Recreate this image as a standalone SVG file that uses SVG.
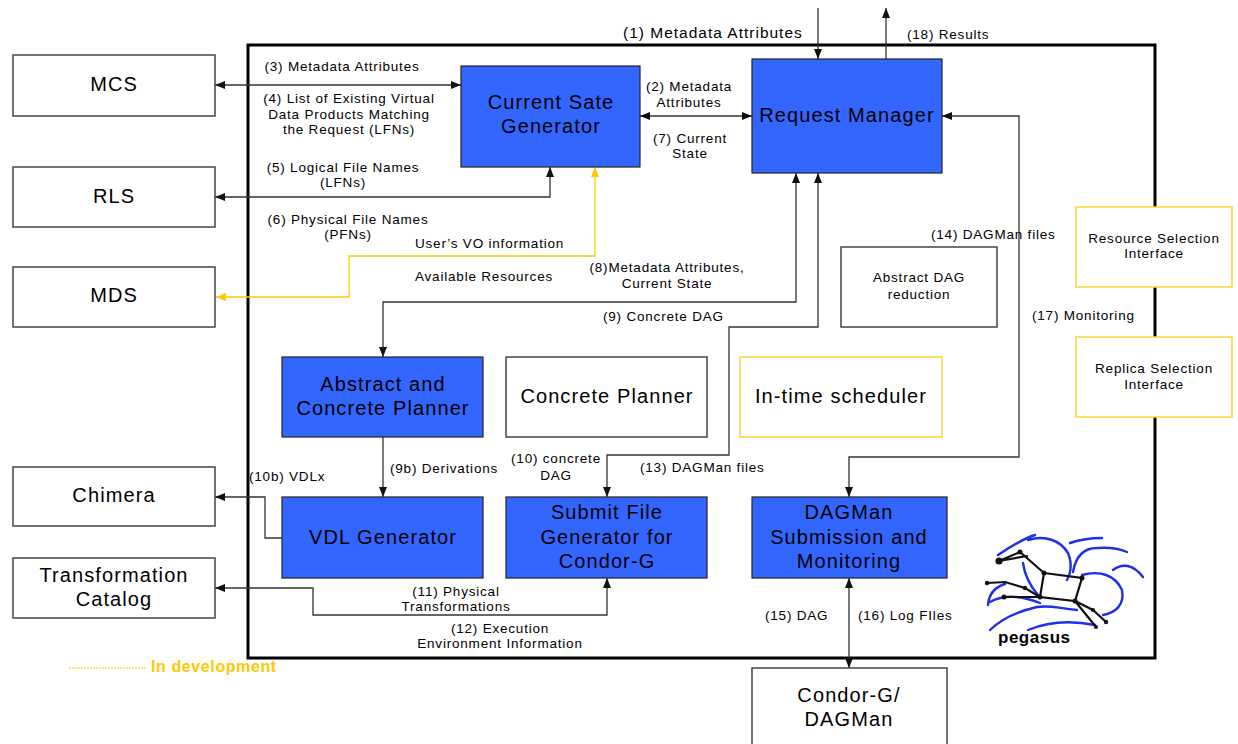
<svg xmlns="http://www.w3.org/2000/svg" width="1238" height="744" viewBox="0 0 1238 744">
<style>
text{font-family:"Liberation Sans",Arial,sans-serif;fill:#000}
.big{font-size:20px;letter-spacing:1.1px;text-anchor:middle}
.lbl{font-size:13.5px;letter-spacing:0.8px}
.mid{text-anchor:middle}
.sm{font-size:13.5px;letter-spacing:0.8px;text-anchor:middle}
.blue{fill:#3366FF;stroke:#222;stroke-width:1.2}
.white{fill:#fff;stroke:#444;stroke-width:1.5}
.yel{fill:#fff;stroke:#FFD43B;stroke-width:1.5}
.con{fill:none;stroke:#333;stroke-width:1.3}
.ycon{fill:none;stroke:#FFC800;stroke-width:1.3}
.logo{fill:none;stroke:#1F2EE8;stroke-width:2.4;stroke-linecap:round}
.star{fill:none;stroke:#111;stroke-width:2.2;stroke-linecap:round}
</style>
<defs>
<marker id="ah" markerUnits="userSpaceOnUse" markerWidth="10" markerHeight="8" refX="10" refY="4" orient="auto-start-reverse" viewBox="0 0 10 8"><path d="M0,0 L10,4 L0,8 z" fill="#111"/></marker>
<marker id="ay" markerUnits="userSpaceOnUse" markerWidth="10" markerHeight="8" refX="10" refY="4" orient="auto-start-reverse" viewBox="0 0 10 8"><path d="M0,0 L10,4 L0,8 z" fill="#FFC800"/></marker>
</defs>
<rect width="1238" height="744" fill="#fff"/>
<rect id="pegasus-frame" x="248" y="45" width="907" height="613" fill="none" stroke="#000" stroke-width="3"/>

<g id="connectors">
<path class="con" d="M818,8 V59" marker-end="url(#ah)"/>
<path class="con" d="M886,59 V8" marker-end="url(#ah)"/>
<path class="con" d="M215,85 H461" marker-start="url(#ah)" marker-end="url(#ah)"/>
<path class="con" d="M640,116 H752" marker-start="url(#ah)" marker-end="url(#ah)"/>
<path class="con" d="M550,167 V197 H215" marker-start="url(#ah)" marker-end="url(#ah)"/>
<path class="ycon" d="M595,167 V256 H349 V297 H216" marker-start="url(#ay)" marker-end="url(#ay)"/>
<path class="con" d="M383,357 V302 H796 V173" marker-start="url(#ah)" marker-end="url(#ah)"/>
<path class="con" d="M818,173 V327 H729 V455 H607 V497" marker-start="url(#ah)" marker-end="url(#ah)"/>
<path class="con" d="M383,437 V497" marker-end="url(#ah)"/>
<path class="con" d="M282,538 H265 V497 H215" marker-end="url(#ah)"/>
<path class="con" d="M607,578 V615 H313 V588 H215" marker-start="url(#ah)" marker-end="url(#ah)"/>
<path class="con" d="M942,116 H1019 V457 H849 V497" marker-start="url(#ah)" marker-end="url(#ah)"/>
<path class="con" d="M849,578 V668" marker-start="url(#ah)" marker-end="url(#ah)"/>
</g>

<g id="connector-labels">
<text class="lbl" x="623" y="38" style="font-size:15.5px;letter-spacing:1px">(1) Metadata Attributes</text>
<text class="lbl" x="907" y="39">(18) Results</text>
<text class="sm" x="342" y="71">(3) Metadata Attributes</text>
<text class="sm" x="349" y="103">(4) List of Existing Virtual</text>
<text class="sm" x="349" y="119">Data Products Matching</text>
<text class="sm" x="349" y="134">the Request (LFNs)</text>
<text class="sm" x="689" y="91">(2) Metadata</text>
<text class="sm" x="689" y="107">Attributes</text>
<text class="sm" x="690" y="143">(7) Current</text>
<text class="sm" x="690" y="158">State</text>
<text class="sm" x="343" y="172">(5) Logical File Names</text>
<text class="sm" x="343" y="187">(LFNs)</text>
<text class="sm" x="348" y="224">(6) Physical File Names</text>
<text class="sm" x="348" y="239">(PFNs)</text>
<text class="lbl" x="415" y="248">User’s VO information</text>
<text class="lbl" x="415" y="281">Available Resources</text>
<text class="sm" x="667" y="272">(8)Metadata Attributes,</text>
<text class="sm" x="667" y="288">Current State</text>
<text class="lbl" x="603" y="321">(9) Concrete DAG</text>
<text class="lbl" x="931" y="239">(14) DAGMan files</text>
<text class="lbl" x="1032" y="320">(17) Monitoring</text>
<text class="lbl" x="390" y="473">(9b) Derivations</text>
<text class="lbl" x="249" y="481">(10b) VDLx</text>
<text class="sm" x="556" y="463">(10) concrete</text>
<text class="sm" x="556" y="480">DAG</text>
<text class="lbl" x="640" y="472">(13) DAGMan files</text>
<text class="sm" x="456" y="596">(11) Physical</text>
<text class="sm" x="456" y="611">Transformations</text>
<text class="sm" x="500" y="633">(12) Execution</text>
<text class="sm" x="500" y="648">Environment Information</text>
<text class="lbl" x="765" y="620">(15) DAG</text>
<text class="lbl" x="858" y="620">(16) Log FIles</text>
</g>

<g id="mcs"><rect class="white" x="13" y="55" width="202" height="61"/><text class="big" x="114" y="91">MCS</text></g>
<g id="rls"><rect class="white" x="13" y="167" width="202" height="60"/><text class="big" x="114" y="203">RLS</text></g>
<g id="mds"><rect class="white" x="13" y="267" width="202" height="60"/><text class="big" x="114" y="302">MDS</text></g>
<g id="chimera"><rect class="white" x="13" y="467" width="202" height="59"/><text class="big" x="114" y="502">Chimera</text></g>
<g id="transformation-catalog"><rect class="white" x="13" y="558" width="202" height="60"/><text class="big" x="114" y="582">Transformation</text><text class="big" x="114" y="606">Catalog</text></g>

<g id="current-state-generator"><rect class="blue" x="461" y="66" width="179" height="101"/><text class="big" x="551" y="109">Current Sate</text><text class="big" x="551" y="133">Generator</text></g>
<g id="request-manager"><rect class="blue" x="752" y="59" width="190" height="114"/><text class="big" x="847" y="122">Request Manager</text></g>
<g id="abstract-dag-reduction"><rect class="white" x="841" y="247" width="156" height="80"/><text class="sm" x="919" y="282">Abstract DAG</text><text class="sm" x="919" y="299">reduction</text></g>
<g id="resource-selection"><rect class="yel" x="1076" y="207" width="156" height="80"/><text class="sm" x="1154" y="243">Resource Selection</text><text class="sm" x="1154" y="258">Interface</text></g>
<g id="replica-selection"><rect class="yel" x="1076" y="337" width="156" height="80"/><text class="sm" x="1154" y="373">Replica Selection</text><text class="sm" x="1154" y="389">Interface</text></g>
<g id="abstract-concrete-planner"><rect class="blue" x="282" y="357" width="201" height="80"/><text class="big" x="383" y="391">Abstract and</text><text class="big" x="383" y="415">Concrete Planner</text></g>
<g id="concrete-planner"><rect class="white" x="506" y="357" width="201" height="80"/><text class="big" x="607" y="403">Concrete Planner</text></g>
<g id="in-time-scheduler"><rect class="yel" x="740" y="357" width="202" height="80"/><text class="big" x="841" y="403">In-time scheduler</text></g>
<g id="vdl-generator"><rect class="blue" x="282" y="497" width="201" height="81"/><text class="big" x="383" y="544">VDL Generator</text></g>
<g id="submit-file-generator"><rect class="blue" x="506" y="497" width="201" height="81"/><text class="big" x="607" y="519">Submit File</text><text class="big" x="607" y="544">Generator for</text><text class="big" x="607" y="568">Condor-G</text></g>
<g id="dagman-submission"><rect class="blue" x="752" y="497" width="195" height="81"/><text class="big" x="849" y="519">DAGMan</text><text class="big" x="849" y="544">Submission and</text><text class="big" x="849" y="568">Monitoring</text></g>
<g id="condor-g"><rect class="white" x="752" y="668" width="195" height="90"/><text class="big" x="849" y="702">Condor-G/</text><text class="big" x="849" y="726">DAGMan</text></g>

<g id="legend">
<line x1="69" y1="668" x2="147" y2="668" stroke="#FFC800" stroke-width="1" stroke-dasharray="2,1"/>
<text x="151" y="672" style="font-size:16px;font-weight:bold;letter-spacing:0.6px;fill:#FFC800">In development</text>
</g>

<g id="pegasus-logo">
<path class="logo" d="M998,555 C1010,547 1025,538 1035,535"/>
<path class="logo" d="M1028,540 C1045,535 1060,540 1068,553 C1073,565 1070,575 1067,580"/>
<path class="logo" d="M1070,543 C1082,539 1095,538 1102,538"/>
<path class="logo" d="M1073,572 C1076,555 1085,548 1097,548 C1110,547 1120,549 1127,552"/>
<path class="logo" d="M1113,570 C1122,563 1133,564 1143,577"/>
<path class="logo" d="M1082,575 C1100,570 1115,575 1122,590 C1125,605 1115,613 1103,615"/>
<path class="logo" d="M1023,563 C1025,578 1032,588 1038,595"/>
<path class="logo" d="M988,605 C989,593 995,587 1005,584"/>
<path class="logo" d="M990,630 C1000,620 1015,612 1037,607 C1050,605 1057,608 1077,610"/>
<path class="logo" d="M1028,630 C1047,622 1070,620 1095,625"/>
<path class="logo" d="M990,602 C1003,595 1020,595 1040,603"/>
<path class="star" d="M999,561 L1020,552 L1044,573 M999,561 L1027,556 M1044,573 L1082,578 L1075,601 L1040,597 Z M987,583 L1005,582 L1025,588 L1040,597 M1004,597 L1040,597 M1075,601 L1093,610 L1106,622 M1075,601 L1096,627"/>
<g fill="#111">
<circle cx="999" cy="561" r="3.6"/><circle cx="1020" cy="552" r="2.5"/><circle cx="1044" cy="573" r="2.5"/><circle cx="1082" cy="578" r="2.5"/>
<circle cx="987" cy="583" r="2.2"/><circle cx="1025" cy="588" r="2.2"/><circle cx="1040" cy="597" r="2.5"/><circle cx="1075" cy="601" r="2.5"/>
<circle cx="1004" cy="597" r="2.5"/><circle cx="1093" cy="610" r="2"/><circle cx="1106" cy="622" r="2.2"/><circle cx="1096" cy="627" r="2"/>
</g>
<text x="998" y="643" style="font-size:17px;font-weight:bold;letter-spacing:0.5px">pegasus</text>
</g>
</svg>
